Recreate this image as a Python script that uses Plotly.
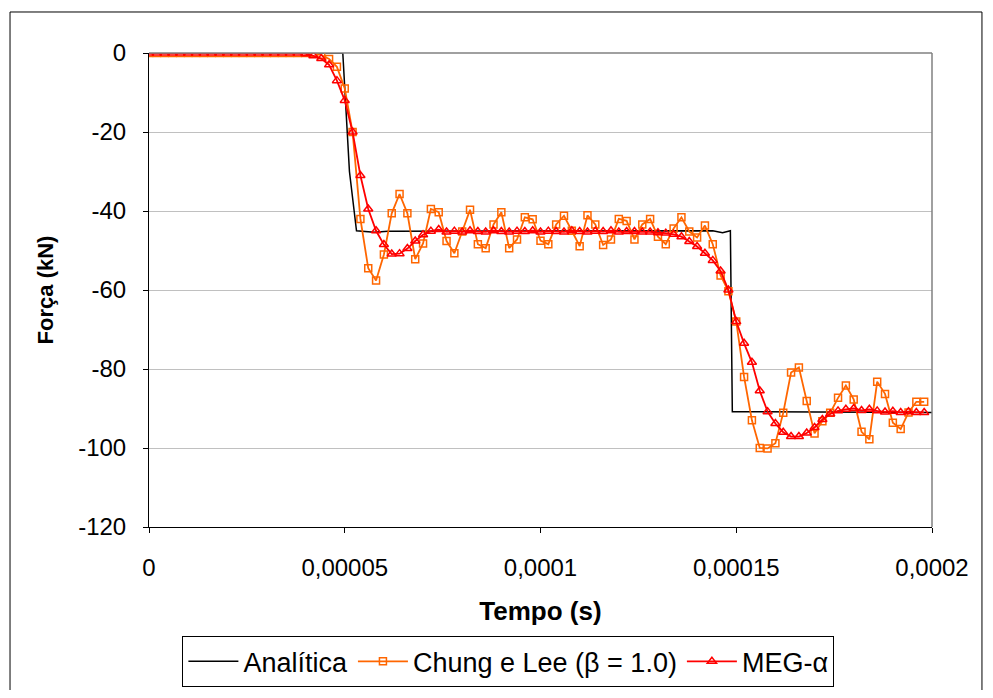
import plotly.graph_objects as go

# ---------------- data ----------------
dt = 2e-6
n_points = 100
tempo = [i * dt for i in range(n_points)]

# Analytical solution (break points)
t_analitica = [0, 0.0000495, 0.0000512, 0.000053, 0.0000575, 0.000061,
               0.000144, 0.0001465, 0.0001485, 0.000149, 0.0002]
f_analitica = [0, 0, -30, -45, -45.4, -45.1,
               -45.0, -45.5, -45.0, -90.8, -91.0]

chung_lee = [
    0, 0, 0, 0, 0, 0, 0, 0, 0, 0,
    0, 0, 0, 0, 0, 0, 0, 0, 0, 0,
    0, 0, -0.5, -1.5, -3.5, -9, -20, -42, -54.5, -57.6,
    -51, -40.6, -35.7, -40.6, -52.2, -48.2, -39.5, -40.3, -47.6, -50.7,
    -45.2, -39.7, -48.4, -49.4, -43.4, -40.3, -49.4, -47.2, -41.6, -42.1,
    -47.5, -48.4, -43.4, -41.2, -45.0, -48.9, -41.1, -43.4, -48.6, -47.2,
    -42.0, -42.5, -47.2, -43.4, -42.0, -46.5, -48.4, -44.4, -41.6, -45.2,
    -46.7, -43.7, -48.4, -56.3, -60.3, -68, -82, -93, -100, -100.1,
    -98.8, -91.1, -80.9, -79.6, -88.1, -96.3, -93.2, -91.1, -87.3, -84.2,
    -87.7, -95.9, -97.8, -83.2, -86.3, -93.6, -95.2, -91.0, -88.3, -88.3,
]

meg_alpha = [
    0, 0, 0, 0, 0, 0, 0, 0, 0, 0,
    0, 0, 0, 0, 0, 0, 0, 0, 0, 0,
    -0.2, -0.7, -1.4, -3, -7, -12, -20, -31, -39.5, -45,
    -48.5, -50.9, -50.8, -49.5, -47.6, -46, -45.1, -44.7, -45.3, -45.1,
    -45.3, -45.0, -45.2, -45.3, -45.0, -45.2, -45.3, -45.1, -45.2, -45.0,
    -45.3, -45.1, -45.2, -45.3, -45.0, -45.2, -45.3, -45.1, -45.2, -45.0,
    -45.3, -45.2, -45.2, -45.3, -45.3, -45.5, -45.6, -45.9, -46.5, -47.7,
    -49, -50.7, -52.5, -55.2, -60, -68, -73.5, -78.3, -85.5, -90.8,
    -93.8, -96, -97.1, -97.1, -96.2, -94.8, -92.8, -91.4, -90.6, -90.2,
    -90.0, -90.5, -90.2, -90.6, -90.9, -90.7, -91.0, -90.8, -91.0, -91.0,
]

x_tickvals = [0, 0.00005, 0.0001, 0.00015, 0.0002]
x_ticktext = ["0", "0,00005", "0,0001", "0,00015", "0,0002"]
y_tickvals = [0, -20, -40, -60, -80, -100, -120]
y_ticktext = ["0", "-20", "-40", "-60", "-80", "-100", "-120"]

names = ["Analítica", "Chung e Lee (β = 1.0)", "MEG-α"]

# ---------------- figure ----------------
FONT = "Liberation Sans, Arial, sans-serif"
fig = go.Figure()

fig.add_trace(go.Scatter(
    x=t_analitica, y=f_analitica, mode="lines", name=names[0],
    line=dict(color="black", width=1.5)))
fig.add_trace(go.Scatter(
    x=tempo, y=chung_lee, mode="lines+markers", name=names[1],
    line=dict(color="#FF6600", width=1.8),
    marker=dict(symbol="square-open", size=7, color="#FF6600",
                line=dict(width=1.5, color="#FF6600"))))
fig.add_trace(go.Scatter(
    x=tempo, y=meg_alpha, mode="lines+markers", name=names[2],
    line=dict(color="#FF0000", width=1.8),
    marker=dict(symbol="triangle-up-open", size=8, color="#FF0000",
                line=dict(width=1.5, color="#FF0000"))))

fig.update_layout(
    width=977, height=682,
    margin=dict(l=141, r=53, t=45, b=163),
    paper_bgcolor="white", plot_bgcolor="white",
    font=dict(family=FONT, size=24, color="black"),
    showlegend=True,
    legend=dict(orientation="h", xref="paper", x=0.459, xanchor="center",
                yref="container", y=0.004, yanchor="bottom",
                bordercolor="black", borderwidth=1, bgcolor="white",
                font=dict(family=FONT, size=27, color="black"),
                itemwidth=50, tracegroupgap=0),
    xaxis=dict(range=[0, 0.0002], tickvals=x_tickvals, ticktext=x_ticktext,
               showgrid=False, zeroline=False, showline=True, linecolor="black",
               linewidth=1, ticks="outside", ticklen=5, tickcolor="black",
               ticklabelstandoff=14, automargin=False,
               tickfont=dict(family=FONT, size=24),
               title=dict(text="<b>Tempo (s)</b>", standoff=22,
                          font=dict(family=FONT, size=26))),
    yaxis=dict(range=[-120, 0], tickvals=y_tickvals, ticktext=y_ticktext,
               showgrid=True, gridcolor="#C0C0C0", gridwidth=1, zeroline=False,
               showline=True, linecolor="black", linewidth=1,
               ticks="outside", ticklen=5, tickcolor="black",
               ticklabelstandoff=12, automargin=False,
               tickfont=dict(family=FONT, size=24),
               title=dict(text="<b>Força (kN)</b>", standoff=18,
                          font=dict(family=FONT, size=22))),
    shapes=[
        # plot area border (top / right)
        dict(type="line", xref="paper", yref="paper", x0=0, x1=1, y0=1, y1=1,
             line=dict(color="#808080", width=1.5)),
        dict(type="line", xref="paper", yref="paper", x0=1, x1=1, y0=0, y1=1,
             line=dict(color="#808080", width=1.5)),
        # outer chart frame
        dict(type="rect", xref="paper", yref="paper",
             x0=-0.1775, x1=1.0638, y0=-0.40, y1=1.0865,
             line=dict(color="black", width=1), layer="below"),
    ],
)

fig.write_html("out.html")
